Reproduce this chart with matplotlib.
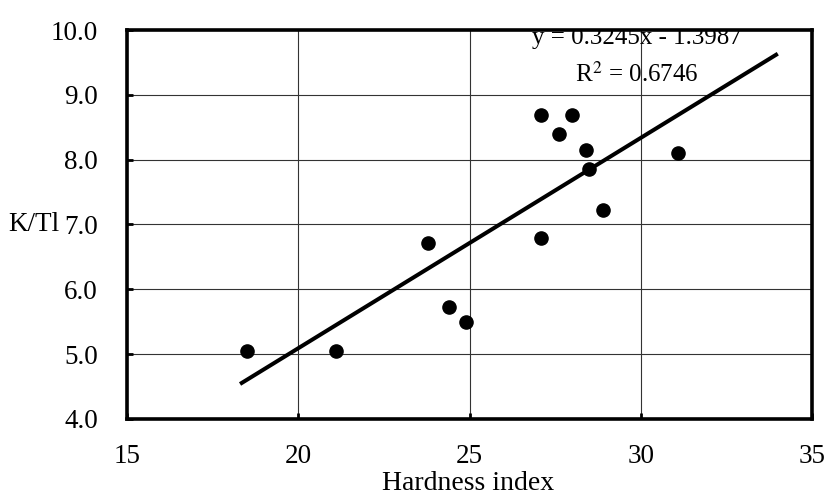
"""K/Tl versus hardness index scatter with linear trend."""

import matplotlib
matplotlib.use("Agg")
import matplotlib.pyplot as plt
import numpy as np

hardness = [18.5, 21.1, 23.8, 24.4, 24.9, 27.1, 27.6, 28.0, 28.4, 28.5, 28.9, 27.1, 31.1]
k_tl = [5.05, 5.05, 6.71, 5.72, 5.49, 8.69, 8.40, 8.69, 8.15, 7.86, 7.22, 6.79, 8.11]

slope, intercept = 0.3245, -1.3987
fit_range = [18.3, 34.0]
eq_text = "y = 0.3245x - 1.3987"
r2_text = "R$^2$ = 0.6746"

x_ticks = [15, 20, 25, 30, 35]
y_ticks = [4.0, 5.0, 6.0, 7.0, 8.0, 9.0, 10.0]

plt.rcParams["font.family"] = ["Liberation Serif", "DejaVu Serif"]
plt.rcParams["mathtext.fontset"] = "stix"

fig = plt.figure(figsize=(8.27, 4.97), dpi=100)
ax = fig.add_axes([0.1536, 0.157, 0.8283, 0.7826])

ax.scatter(hardness, k_tl, s=90, color="black", zorder=4)
xf = np.array(fit_range)
ax.plot(xf, slope * xf + intercept, color="black", lw=2.9, zorder=3,
        solid_capstyle="butt")

ax.set_xlim(15, 35)
ax.set_ylim(4, 10)
ax.set_xticks(x_ticks)
ax.set_yticks(y_ticks)
ax.set_yticklabels([f"{v:.1f}" for v in y_ticks])
ax.grid(True, color="#333333", lw=0.8)
ax.set_axisbelow(True)
ax.tick_params(direction="in", length=4, width=2, labelsize=19.5)
ax.tick_params(axis="y", pad=21)
ax.tick_params(axis="x", pad=18)
for s in ax.spines.values():
    s.set_linewidth(2.6)

ax.text(29.88, 9.875, eq_text, ha="center", va="center", fontsize=18,
        clip_on=True)
ax.text(29.88, 9.32, r2_text, ha="center", va="center", fontsize=18)

fig.text(0.566, 0.003, "Hardness index", ha="center", va="bottom", fontsize=20)
fig.text(0.0097, 1 - 224 / 497, "K/Tl", ha="left", va="center", fontsize=19.5)

fig.savefig("out.png", dpi=100)
